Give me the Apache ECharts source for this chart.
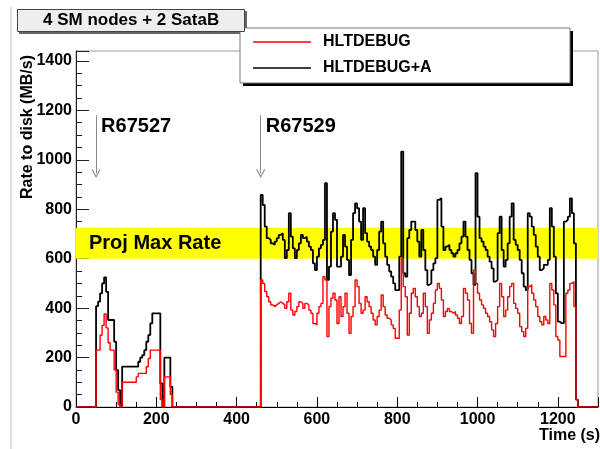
<!DOCTYPE html>
<html><head><meta charset="utf-8">
<script src="https://cdn.jsdelivr.net/npm/echarts@6/dist/echarts.min.js"></script>
<style>html,body{margin:0;padding:0;background:#fff}#c{width:600px;height:449px}</style>
</head><body><div id="c"></div>
<script>
// ---- data ----
const binWidth = 5;          // seconds per histogram bin
const timeMax = 1300;
const run1Start = 50;        // first non-empty bin of run R67527
const run2Start = 460;       // first non-empty bin of run R67529
const seriesNames = ['HLTDEBUG', 'HLTDEBUG+A'];
const titleText = '4 SM nodes + 2 SataB';
const yTitle = 'Rate to disk (MB/s)';
const xTitle = 'Time (s)';
const projMaxRate = [600, 725];
const projLabel = 'Proj Max Rate';
const runNames = ['R67527', 'R67529'];
const runTimes = [50, 460];
const arrowFrom = 1180, arrowTo = 945;

// HLTDEBUG (red), run 1, bins from 50 s
const redEarly = [230,230,290,330,376,320,260,230,230,150,60,10,0,
  100,100,100,100,100,100,100,122,136,136,136,136,163,196,
  230,230,230,230,230,30,0,122,122,122,50,0];
// HLTDEBUG+A (black), run 1
const blackEarly = [408,426,460,500,524,466,352,352,352,264,149,68,5,
  163,163,163,163,163,163,163,163,183,200,210,230,264,291,
  338,379,379,379,379,95,0,200,200,200,82,0];
// HLTDEBUG (red), run 2, bins from 460 s
const redLate = [514,500,467,446,426,413,406,413,419,426,419,413,399,426,460,392,372,386,406,426,
  419,399,419,413,392,379,338,332,379,406,419,527,514,285,406,440,460,433,338,446,
  366,406,460,379,298,366,406,514,487,419,379,392,446,426,406,379,352,332,366,392,
  453,406,372,359,352,332,318,278,278,392,602,487,446,291,379,460,480,446,406,366,
  379,460,406,298,352,379,419,473,500,480,433,366,386,399,386,379,386,372,359,338,
  366,480,460,433,338,298,554,500,460,433,413,399,379,366,345,312,285,338,406,500,
  446,366,392,446,487,500,419,399,379,325,305,285,318,487,494,460,433,406,366,345,
  332,366,352,338,500,473,413,285,271,204,204,204,460,473,500,507,406,30];
// HLTDEBUG+A (black), run 2
const blackLate = [858,817,730,683,676,662,656,669,683,696,703,676,602,635,784,689,642,602,635,662,
  696,683,689,669,649,635,581,554,608,642,656,676,905,514,568,709,784,757,568,568,
  608,696,649,595,534,676,784,824,804,750,676,804,703,669,649,635,608,575,635,709,
  750,662,608,575,548,527,500,473,473,608,1033,541,527,683,716,750,750,716,669,608,
  716,635,554,494,500,554,581,602,838,844,730,635,649,656,635,622,608,622,635,662,
  689,750,689,635,595,541,494,946,770,683,669,649,635,608,588,561,507,514,703,770,
  635,568,595,662,770,824,676,656,635,595,541,487,473,784,770,730,696,649,608,554,
  561,575,575,595,804,730,608,460,345,339,339,750,757,770,844,784,662,30];

function buildHist(early, late) {
  const pts = [];
  const nb = timeMax / binWidth;
  for (let i = 0; i < nb; i++) {
    const t = i * binWidth;
    const ie = (t - run1Start) / binWidth, il = (t - run2Start) / binWidth;
    let v = 0;
    if (ie >= 0 && ie < early.length) v = early[ie];
    else if (il >= 0 && il < late.length) v = late[il];
    pts.push([t, v]);
  }
  pts.push([timeMax, 0]);
  return pts;
}

const FONT = 'Liberation Sans';
const chart = echarts.init(document.getElementById('c'), null, {renderer: 'canvas'});
const chevron = 'path://M5,0 L10,9 L9,10 L5,2.5 L1,10 L0,9 Z';
const plain = v => String(v);

const option = {
  animation: false,
  backgroundColor: '#fff',
  title: {
    text: titleText, left: 17, top: 9, padding: [3, 26, 3, 26],
    backgroundColor: '#eeeeee', borderColor: '#444', borderWidth: 1,
    textStyle: {fontFamily: FONT, fontSize: 17, fontWeight: 'bold', color: '#000', lineHeight: 17},
    z: 8
  },
  legend: {
    orient: 'vertical', left: 253, top: 34, padding: 0, itemGap: 10,
    itemWidth: 58, itemHeight: 16, data: seriesNames,
    icon: 'path://M0,0 L58,0 L58,1.6 L0,1.6 Z', symbolKeepAspect: true,
    textStyle: {fontFamily: FONT, fontSize: 16, fontWeight: 'bold', color: '#000', lineHeight: 16, padding: [0, 0, 0, 7]},
    z: 10, selectedMode: false
  },
  grid: {left: 76, right: 2, top: 51, bottom: 42, show: true, borderColor: '#999', borderWidth: 1,
    backgroundColor: 'transparent', containLabel: false, outerBoundsMode: 'none'},
  xAxis: {
    type: 'value', min: 0, max: timeMax, interval: 200,
    axisLine: {lineStyle: {color: '#000', width: 1}},
    axisTick: {inside: true, length: 10, lineStyle: {color: '#000'}},
    minorTick: {show: true, splitNumber: 4, length: 5, lineStyle: {color: '#000'}},
    splitLine: {show: false},
    axisLabel: {fontFamily: FONT, fontSize: 16, fontWeight: 'bold', color: '#000', margin: 5,
      showMaxLabel: false, formatter: plain}
  },
  yAxis: {
    type: 'value', min: 0, max: 1440, interval: 200,
    axisLine: {show: true, lineStyle: {color: '#222', width: 1}},
    axisTick: {show: true, inside: true, length: 13, lineStyle: {color: '#222'}},
    minorTick: {show: true, splitNumber: 4, length: 6, lineStyle: {color: '#222'}},
    splitLine: {show: false},
    axisLabel: {fontFamily: FONT, fontSize: 16, fontWeight: 'bold', color: '#000', margin: 4,
      showMaxLabel: false, formatter: plain}
  },
  series: [
    {
      name: 'band', type: 'line', data: [], z: 1, silent: true,
      markArea: {
        silent: true,
        itemStyle: {color: '#ffff00', opacity: 1},
        label: {show: true, position: 'insideLeft', distance: 13, color: '#000',
          fontFamily: FONT, fontSize: 20, fontWeight: 'bold'},
        data: [[{yAxis: projMaxRate[0], name: projLabel}, {yAxis: projMaxRate[1]}]]
      },
      markLine: {
        silent: true, symbol: ['none', chevron], symbolSize: [9, 9],
        lineStyle: {color: '#888', width: 1, type: 'solid'},
        label: {show: false},
        data: runTimes.map(t => [{coord: [t, arrowFrom]}, {coord: [t, arrowTo]}])
      }
    },
    {
      name: seriesNames[1], type: 'line', step: 'end', symbol: 'none', z: 3,
      color: '#000', lineStyle: {color: '#000', width: 1.8},
      data: buildHist(blackEarly, blackLate)
    },
    {
      name: seriesNames[0], type: 'line', step: 'end', symbol: 'none', z: 4,
      color: '#ff0000', lineStyle: {color: '#ff0000', width: 1.4},
      data: buildHist(redEarly, redLate)
    }
  ]
};
chart.setOption(option);

const g = [
  {type: 'line', shape: {x1: 11, y1: 7, x2: 11, y2: 449}, style: {stroke: '#bbb', lineWidth: 1}, z: 1},
  {type: 'rect', shape: {x: 19, y: 11, width: 228, height: 23}, style: {fill: '#666'}, z: 5},
  {type: 'rect', shape: {x: 243, y: 31, width: 330, height: 55}, style: {fill: '#000'}, z: 5},
  {type: 'rect', shape: {x: 240, y: 28, width: 330, height: 55}, style: {fill: '#fff', stroke: '#777', lineWidth: 1}, z: 6},
  {type: 'text', x: 28, y: 127, rotation: Math.PI / 2,
    style: {text: yTitle, font: 'bold 16px "Liberation Sans"', fill: '#000',
      align: 'center', verticalAlign: 'middle', textAlign: 'center', textVerticalAlign: 'middle'}, z: 6},
  {type: 'text', x: 539, y: 436,
    style: {text: xTitle, font: 'bold 16px "Liberation Sans"', fill: '#000',
      align: 'left', verticalAlign: 'middle', textAlign: 'left', textVerticalAlign: 'middle'}, z: 6}
];
runTimes.forEach((t, i) => {
  const p = chart.convertToPixel({gridIndex: 0}, [t, arrowFrom]);
  g.push({type: 'text', x: p[0] + 5, y: p[1] + 11,
    style: {text: runNames[i], font: 'bold 20px "Liberation Sans"', fill: '#000',
      align: 'left', verticalAlign: 'middle', textAlign: 'left', textVerticalAlign: 'middle'}, z: 6});
});
chart.setOption({graphic: g});
</script></body></html>
